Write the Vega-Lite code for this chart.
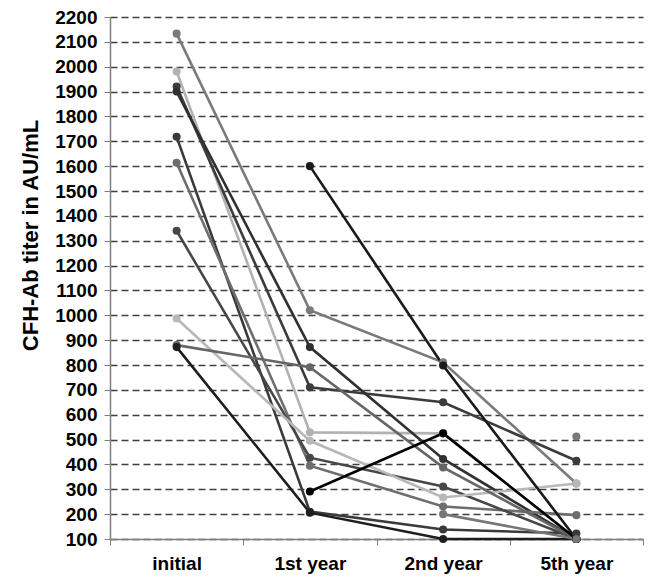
{
  "$schema": "https://vega.github.io/schema/vega-lite/v6.json",
  "width": 533,
  "height": 522,
  "autosize": {"type": "none"},
  "padding": {"left": 110, "top": 17, "right": 16, "bottom": 45},
  "background": "white",
  "config": {"view": {"stroke": null}, "font": "Liberation Sans"},
  "data": {
    "values": [
      {"p": "P01", "t": "initial", "v": 2133}, {"p": "P01", "t": "1st year", "v": 1020}, {"p": "P01", "t": "2nd year", "v": 811}, {"p": "P01", "t": "5th year", "v": 323},
      {"p": "P02", "t": "initial", "v": 1981}, {"p": "P02", "t": "1st year", "v": 529}, {"p": "P02", "t": "2nd year", "v": 525}, {"p": "P02", "t": "5th year", "v": 100},
      {"p": "P03", "t": "initial", "v": 1920}, {"p": "P03", "t": "1st year", "v": 710}, {"p": "P03", "t": "2nd year", "v": 650}, {"p": "P03", "t": "5th year", "v": 415},
      {"p": "P04", "t": "initial", "v": 1900}, {"p": "P04", "t": "1st year", "v": 872}, {"p": "P04", "t": "2nd year", "v": 422}, {"p": "P04", "t": "5th year", "v": 100},
      {"p": "P05", "t": "initial", "v": 1718}, {"p": "P05", "t": "1st year", "v": 210}, {"p": "P05", "t": "2nd year", "v": 138}, {"p": "P05", "t": "5th year", "v": 122},
      {"p": "P06", "t": "initial", "v": 1614}, {"p": "P06", "t": "1st year", "v": 395}, {"p": "P06", "t": "2nd year", "v": 231}, {"p": "P06", "t": "5th year", "v": 196},
      {"p": "P07", "t": "initial", "v": 1340}, {"p": "P07", "t": "1st year", "v": 427}, {"p": "P07", "t": "2nd year", "v": 311}, {"p": "P07", "t": "5th year", "v": 100},
      {"p": "P08", "t": "initial", "v": 987}, {"p": "P08", "t": "1st year", "v": 495}, {"p": "P08", "t": "2nd year", "v": 267}, {"p": "P08", "t": "5th year", "v": 323},
      {"p": "P09", "t": "initial", "v": 880}, {"p": "P09", "t": "1st year", "v": 791}, {"p": "P09", "t": "2nd year", "v": 388}, {"p": "P09", "t": "5th year", "v": 100},
      {"p": "P10", "t": "initial", "v": 872}, {"p": "P10", "t": "1st year", "v": 206}, {"p": "P10", "t": "2nd year", "v": 100}, {"p": "P10", "t": "5th year", "v": 100},
      {"p": "P11", "t": "1st year", "v": 1600}, {"p": "P11", "t": "2nd year", "v": 798}, {"p": "P11", "t": "5th year", "v": 100},
      {"p": "P12", "t": "1st year", "v": 291}, {"p": "P12", "t": "2nd year", "v": 525}, {"p": "P12", "t": "5th year", "v": 100},
      {"p": "P13", "t": "2nd year", "v": 200}, {"p": "P13", "t": "5th year", "v": 100},
      {"p": "P14", "t": "5th year", "v": 512}
    ]
  },
  "encoding": {
    "x": {
      "field": "t",
      "type": "ordinal",
      "sort": ["initial", "1st year", "2nd year", "5th year"],
      "bandPosition": 0.5,
      "scale": {"type": "band", "paddingInner": 0, "paddingOuter": 0},
      "axis": {
        "title": null,
        "labelAngle": 0,
        "labelFontSize": 19,
        "labelFontWeight": "bold",
        "labelColor": "#000000",
        "labelPadding": 9,
        "tickBand": "extent",
        "tickSize": 6,
        "tickColor": "#808080",
        "domainColor": "#808080",
        "domainWidth": 1.5,
        "grid": false
      }
    },
    "y": {
      "field": "v",
      "type": "quantitative",
      "scale": {"domain": [100, 2200], "nice": false, "zero": false},
      "axis": {
        "values": [100, 200, 300, 400, 500, 600, 700, 800, 900, 1000, 1100, 1200, 1300, 1400, 1500, 1600, 1700, 1800, 1900, 2000, 2100, 2200],
        "format": "d",
        "grid": true,
        "gridDash": [7, 4],
        "gridColor": "#404040",
        "gridWidth": 1.4,
        "domainColor": "#808080",
        "domainWidth": 1.5,
        "tickColor": "#808080",
        "tickSize": 6,
        "labelFontSize": 19,
        "labelFontWeight": "bold",
        "labelColor": "#000000",
        "labelPadding": 7,
        "title": "CFH-Ab titer in  AU/mL",
        "titleFontSize": 22,
        "titleFontWeight": "bold",
        "titleColor": "#000000",
        "titleAngle": -90,
        "titleX": -80,
        "titleY": 218,
        "titleAlign": "center",
        "titleBaseline": "middle"
      }
    },
    "color": {
      "field": "p",
      "type": "nominal",
      "legend": null,
      "scale": {
        "domain": ["P01", "P02", "P03", "P04", "P05", "P06", "P07", "P08", "P09", "P10", "P11", "P12", "P13", "P14"],
        "range": ["#7a7a7a", "#b2b2b2", "#3c3c3c", "#303030", "#3a3a3a", "#6e6e6e", "#474747", "#b8b8b8", "#666666", "#1e1e1e", "#1a1a1a", "#000000", "#777777", "#7a7a7a"]
      }
    },
    "detail": {"field": "p"}
  },
  "layer": [
    {"mark": {"type": "line", "strokeWidth": 2.6}},
    {"mark": {"type": "circle", "size": 65, "opacity": 1}}
  ]
}
